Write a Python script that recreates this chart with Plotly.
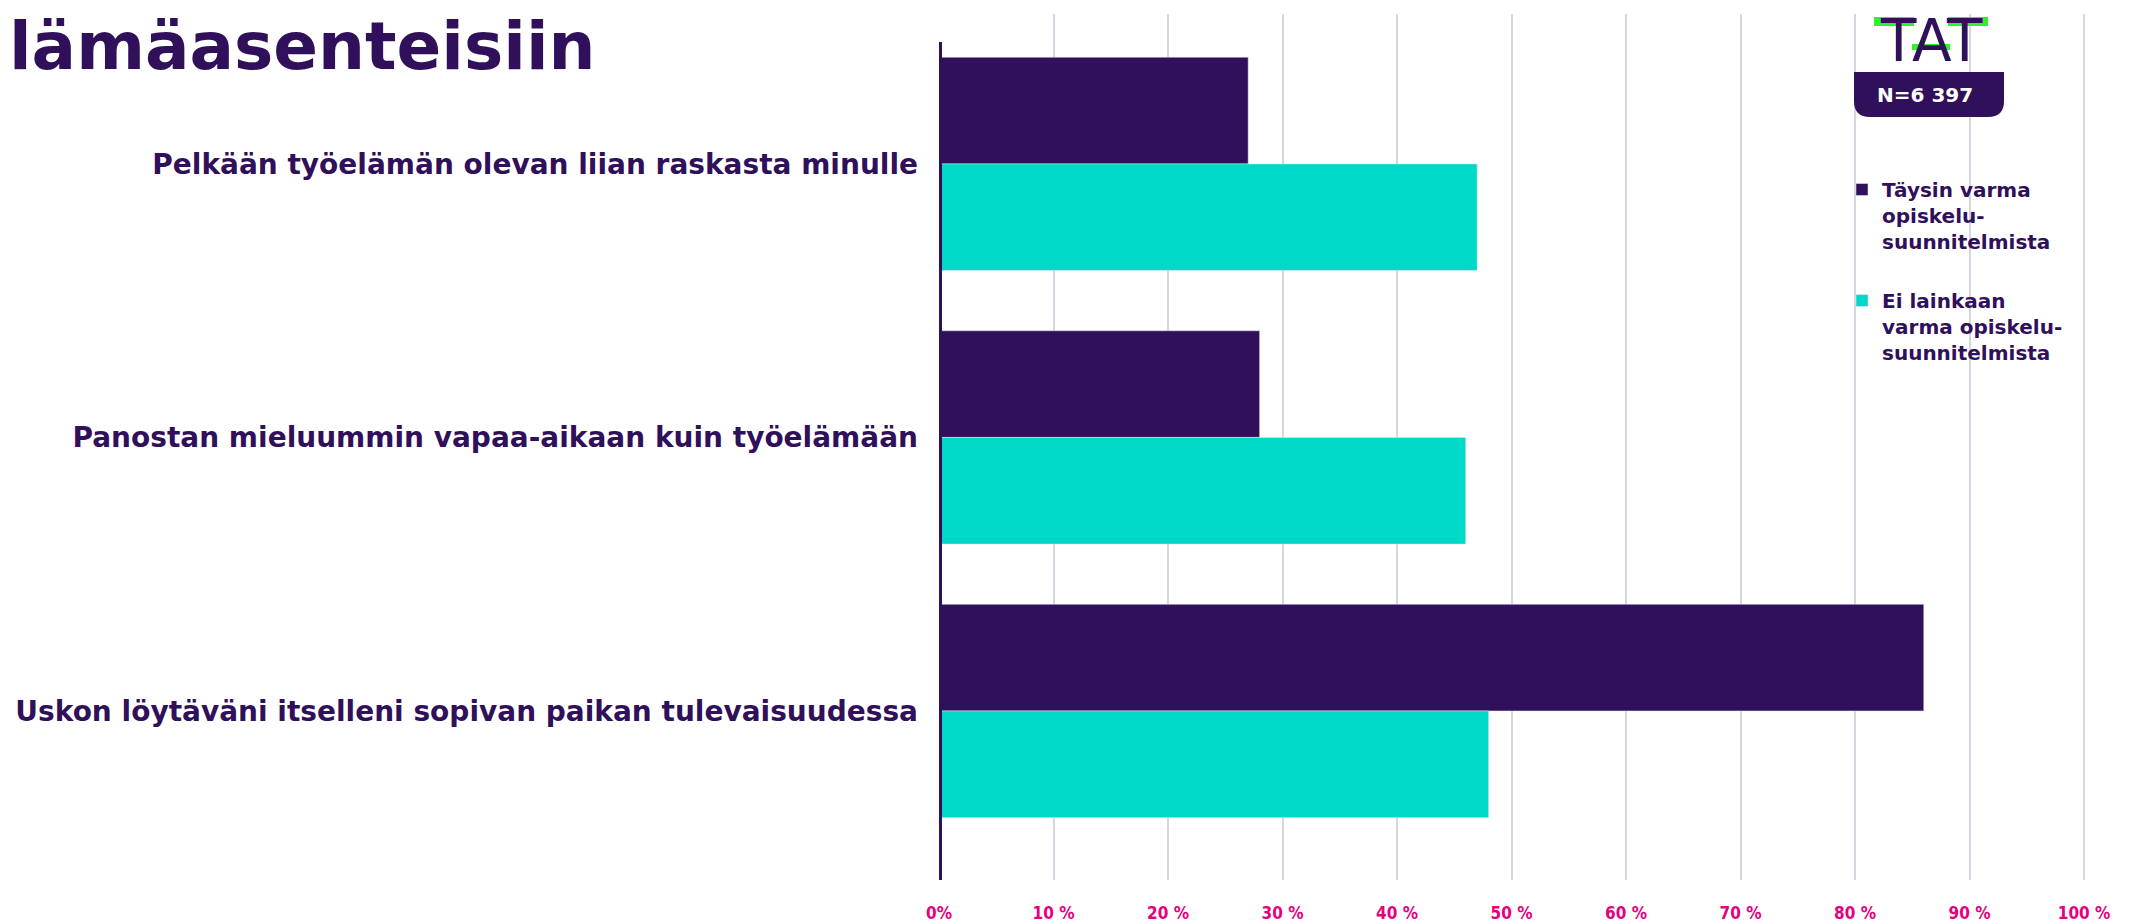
import plotly.graph_objects as go

# data
categories = [
    'Pelkään työelämän olevan liian raskasta minulle',
    'Panostan mieluummin vapaa-aikaan kuin työelämään',
    'Uskon löytäväni itselleni sopivan paikan tulevaisuudessa',
]
taysin_varma = [27, 28, 86]
ei_lainkaan_varma = [47, 46, 48]

series_names = [
    'Täysin varma<br>opiskelu-<br>suunnitelmista',
    'Ei lainkaan<br>varma opiskelu-<br>suunnitelmista',
]

tick_vals = [0, 10, 20, 30, 40, 50, 60, 70, 80, 90, 100]
tick_text = ['0%', '10 %', '20 %', '30 %', '40 %', '50 %', '60 %', '70 %', '80 %', '90 %', '100 %']

title_text = 'lämäasenteisiin'
n_text = 'N=6 397'

PURPLE = '#30105a'
TEAL = '#00d8c8'
MAGENTA = '#e6007e'
GREEN = '#2df22d'
BOLD = 'DejaVu Sans'

# figure geometry (pixels); the page body adds an 8 px offset
W, H = 2136, 924
L, R, T, B = 931, 37, 6, 52
OFF = 8


def px(x):
    # page x -> paper x
    return (x - OFF - L) / (W - L - R)


def py(y):
    # page y -> paper y
    return (H - B - (y - OFF)) / (H - T - B)


fig = go.Figure()
fig.add_trace(go.Bar(y=categories, x=taysin_varma, orientation='h', name=series_names[0],
                     marker_color=PURPLE, legendgroup='a'))
fig.add_trace(go.Bar(y=categories, x=ei_lainkaan_varma, orientation='h', name=series_names[1],
                     marker_color=TEAL, legendgroup='b'))

fig.update_layout(
    width=W, height=H,
    margin=dict(l=L, r=R, t=T, b=B, autoexpand=False),
    paper_bgcolor='white', plot_bgcolor='white',
    barmode='group', bargap=0.22, bargroupgap=0,
    font=dict(family=BOLD, color=PURPLE),
    legend=dict(x=px(1842), y=py(170), xanchor='left', yanchor='top',
                valign='top', tracegroupgap=30,
                font=dict(family=BOLD, size=20, weight='bold', color=PURPLE),
                bgcolor='rgba(0,0,0,0)'),
    showlegend=True,
)

fig.update_xaxes(range=[0, 102], tickvals=tick_vals, ticktext=tick_text, automargin=False,
                 showgrid=True, gridcolor='#d6d6de', gridwidth=1.5,
                 zeroline=False, showline=False, ticks='', ticklabelstandoff=21,
                 tickfont=dict(family='DejaVu Sans Condensed', size=17, weight='bold',
                               color=MAGENTA))

fig.update_yaxes(range=[2.618, -0.548], automargin=False, showgrid=False, zeroline=False,
                 showline=False, ticks='', ticklabelstandoff=20,
                 tickfont=dict(family=BOLD, size=28, weight='bold', color=PURPLE))

# vertical axis line at 0
fig.add_shape(type='line', xref='x', yref='paper', x0=0, x1=0, y0=0, y1=py(42),
              line=dict(color=PURPLE, width=6), layer='above')

# title
fig.add_annotation(text=title_text, xref='paper', yref='paper', x=px(8), y=py(86),
                   xanchor='left', yanchor='bottom', showarrow=False, borderpad=0,
                   font=dict(family=BOLD, size=66, weight='bold', color=PURPLE))

# TAT logo
fig.add_annotation(text='TAT', xref='paper', yref='paper', x=px(1931), y=py(76),
                   xanchor='center', yanchor='bottom', showarrow=False, borderpad=0,
                   font=dict(family='DejaVu Sans', size=58, color=PURPLE))
for x0, x1, y0, y1 in [(1874, 1914, 17, 26), (1948, 1988, 17, 26), (1912, 1950, 44, 50)]:
    fig.add_shape(type='rect', xref='paper', yref='paper',
                  x0=px(x0), x1=px(x1), y0=py(y0), y1=py(y1),
                  fillcolor=GREEN, line=dict(width=0), layer='above')

# N box with rounded bottom corners
r = 16
bx0, bx1, by0, by1 = 1854, 2004, 72, 117
path = (f'M {px(bx0)} {py(by0)} L {px(bx1)} {py(by0)} L {px(bx1)} {py(by1 - r)} '
        f'Q {px(bx1)} {py(by1)} {px(bx1 - r)} {py(by1)} L {px(bx0 + r)} {py(by1)} '
        f'Q {px(bx0)} {py(by1)} {px(bx0)} {py(by1 - r)} Z')
fig.add_shape(type='path', xref='paper', yref='paper', path=path,
              fillcolor=PURPLE, line=dict(width=0), layer='above')
fig.add_annotation(text=n_text, xref='paper', yref='paper', x=px(1925), y=py(95),
                   xanchor='center', yanchor='middle', showarrow=False,
                   font=dict(family=BOLD, size=20, weight='bold', color='white'))

fig.write_html('out.html')
